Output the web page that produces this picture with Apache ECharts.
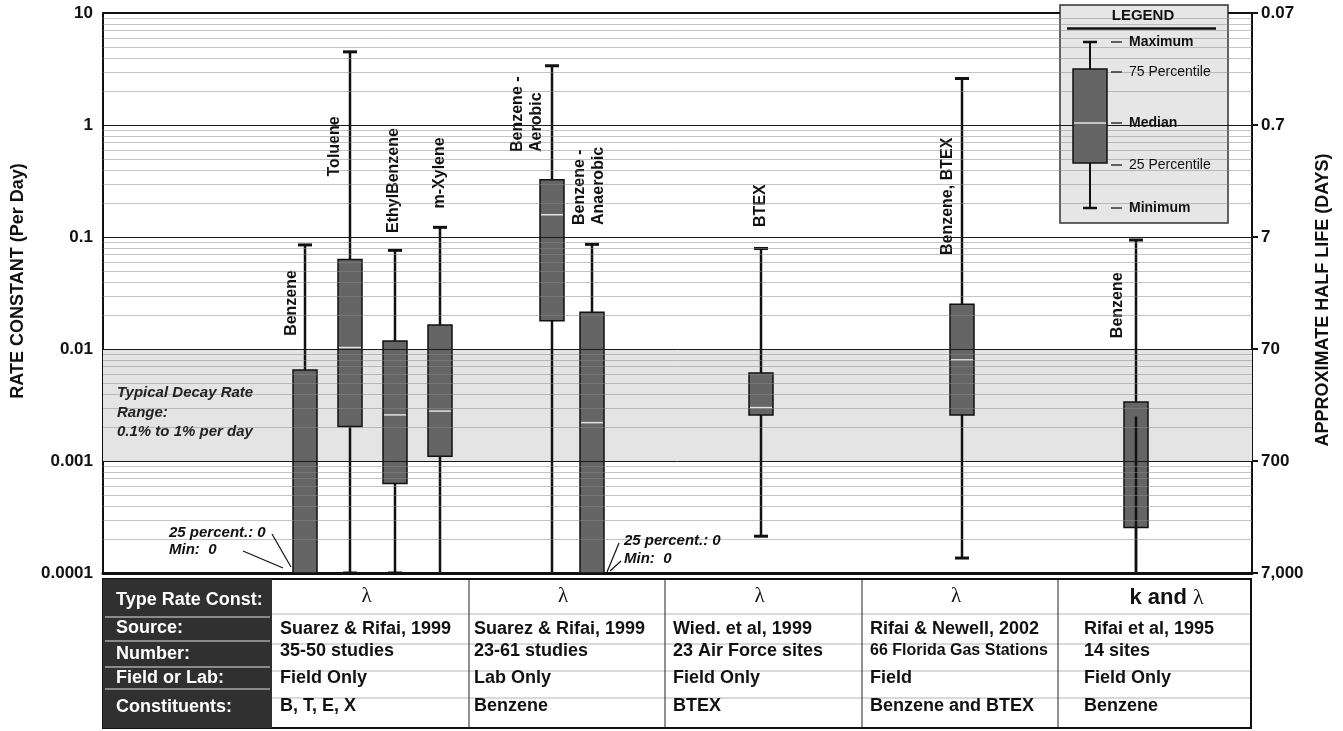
<!DOCTYPE html>
<html><head><meta charset="utf-8">
<script src="https://cdn.jsdelivr.net/npm/echarts@6/dist/echarts.min.js"></script>
<style>html,body{margin:0;padding:0;background:#fff}#c{width:1343px;height:731px}</style>
</head><body><div id="c"></div>
<script>
// ---------------- DATA ----------------
const categories = ['Benzene', 'Toluene', 'EthylBenzene', 'm-Xylene', 'Benzene -\nAerobic', 'Benzene -\nAnaerobic', 'BTEX', 'Benzene, BTEX', 'Benzene'];
const boxSlot = [202, 247, 292, 337, 449, 489, 658, 859, 1033];   // position along the hidden x axis (0..1149)
const maxValues    = [0.085, 4.5,    0.076,   0.122,  3.38,   0.086,  0.079,    2.6,      0.094];
const q3Values     = [0.0065, 0.063, 0.0118,  0.0164, 0.325,  0.0213, 0.0061,   0.0251,   0.00337];
const medianValues = [0,      0.0103, 0.00258, 0.00279, 0.158, 0.0022, 0.003,   0.008,    0.0025];
const q1Values     = [0,      0.00203, 0.00063, 0.0011, 0.0179, 0,     0.00258,  0.00258,  0.000255];
const minValues    = [0,      0.0001, 0.0001,  0,      0,      0,      0.000213, 0.000136, 0];
const rateTicks = [0.0001, 0.001, 0.01, 0.1, 1, 10];
const rateTickLabels = ['0.0001', '0.001', '0.01', '0.1', '1', '10'];
const halfLifeTickLabels = ['7,000', '700', '70', '7', '0.7', '0.07'];
const typicalBand = [0.001, 0.01];
const tableRowHeaders = ['Type Rate Const:', 'Source:', 'Number:', 'Field or Lab:', 'Constituents:'];
const rateType = ['λ', 'λ', 'λ', 'λ', 'k and λ'];
const sources = ['Suarez & Rifai, 1999', 'Suarez & Rifai, 1999', 'Wied. et al, 1999', 'Rifai & Newell, 2002', 'Rifai et al, 1995'];
const numbers = ['35-50 studies', '23-61 studies', '23 Air Force sites', '66 Florida Gas Stations', '14 sites'];
const fieldOrLab = ['Field Only', 'Lab Only', 'Field Only', 'Field', 'Field Only'];
const constituents = ['B, T, E, X', 'Benzene', 'BTEX', 'Benzene and BTEX', 'Benzene'];

// ---------------- LAYOUT / STYLE ----------------
const labelPlacement = [   // dx from whisker (px), rate value at the label's lower end
  {dx: -13, at: 0.0131}, {dx: -15, at: 0.347}, {dx: -1, at: 0.1086}, {dx: 0, at: 0.1797},
  {dx: -25, at: 0.574}, {dx: -3, at: 0.128}, {dx: 0, at: 0.123}, {dx: -14, at: 0.069}, {dx: -18, at: 0.0125}
];
const whiskerThroughBox = [false, false, false, false, false, false, false, false, true];
const FONT = '"Liberation Sans", Arial, Helvetica, sans-serif';
const AXMIN = 0.0001, AXMAX = 10;

const minorLines = [];
for (let e = -4; e <= 0; e++) for (let m = 2; m <= 9; m++) minorLines.push(m * Math.pow(10, e));
const majorLines = [0.001, 0.01, 0.1, 1];
const gridData = minorLines.map(v => [0, v, 0]).concat(majorLines.map(v => [0, v, 1]));

const clamp = v => (v > 0 ? v : AXMIN);

function renderBox(params, api) {
  const i = params.dataIndex;
  const xv = api.value(0);
  const P = v => api.coord([xv, clamp(v)]);
  const x = Math.round(P(maxValues[i])[0]);
  const yMax = P(api.value(5))[1], yQ3 = P(api.value(4))[1], yMed = P(api.value(3))[1];
  const yQ1 = P(api.value(2))[1], yMin = P(api.value(1))[1];
  const bw = 24;
  const ch = [];
  const ls = {stroke: '#111', lineWidth: 2.5};
  ch.push({type: 'line', shape: {x1: x, y1: yQ3, x2: x, y2: yMax}, style: ls});
  ch.push({type: 'line', shape: {x1: x - 7, y1: yMax, x2: x + 7, y2: yMax}, style: {stroke: '#111', lineWidth: 3}});
  ch.push({type: 'line', shape: {x1: x, y1: yQ1, x2: x, y2: yMin}, style: ls});
  if (api.value(1) > 0) ch.push({type: 'line', shape: {x1: x - 7, y1: yMin, x2: x + 7, y2: yMin}, style: {stroke: '#111', lineWidth: 3}});
  ch.push({type: 'rect', shape: {x: x - bw / 2, y: yQ3, width: bw, height: yQ1 - yQ3}, style: {fill: '#656565', stroke: '#111', lineWidth: 1.5}});
  if (whiskerThroughBox[i]) {
    ch.push({type: 'line', shape: {x1: x, y1: yMed, x2: x, y2: yMin}, style: ls});
  } else if (api.value(3) > 0) {
    ch.push({type: 'line', shape: {x1: x - bw / 2 + 1, y1: yMed, x2: x + bw / 2 - 1, y2: yMed}, style: {stroke: '#e2e2e2', lineWidth: 1.5}});
  }
  const lp = labelPlacement[i];
  ch.push({type: 'text', x: x + lp.dx, y: P(lp.at)[1], rotation: Math.PI / 2,
    style: {text: categories[i], fill: '#111', font: 'bold 16px ' + FONT, lineHeight: 19,
      align: 'left', textAlign: 'left', verticalAlign: 'middle', textVerticalAlign: 'middle'}});
  return {type: 'group', children: ch};
}

function renderGrid(params, api) {
  const cs = params.coordSys;
  const y = Math.round(api.coord([0, api.value(1)])[1]) + 0.5;
  const major = api.value(2) === 1;
  return {type: 'line', shape: {x1: cs.x, y1: y, x2: cs.x + cs.width, y2: y},
    style: {stroke: major ? '#1a1a1a' : 'rgba(137,137,137,0.5)', lineWidth: 1}};
}

function renderBand(params, api) {
  const cs = params.coordSys;
  const y1 = api.coord([0, api.value(2)])[1], y2 = api.coord([0, api.value(1)])[1];
  return {type: 'rect', shape: {x: cs.x, y: y1, width: cs.width, height: y2 - y1}, style: {fill: '#e4e4e4'}};
}

const labelIdx = v => Math.round(Math.log10(v)) + 4;

// ---------------- GRAPHIC (table, legend, notes) ----------------
const G = [];
const txt = (x, y, text, font, fill, align, extra) => Object.assign({type: 'text', x, y, z: 20,
  style: {text, font, fill: fill || '#111', align: align || 'left', textAlign: align || 'left', verticalAlign: 'middle', textVerticalAlign: 'middle'}}, extra || {});
const line = (x1, y1, x2, y2, stroke, w, z) => ({type: 'line', z: z == null ? 20 : z, shape: {x1, y1, x2, y2}, style: {stroke, lineWidth: w}});

// Axis titles
G.push(txt(18, 281, 'RATE CONSTANT (Per Day)', 'bold 18px ' + FONT, '#111', 'center', {rotation: Math.PI / 2}));
G.push(txt(1323, 300, 'APPROXIMATE HALF LIFE (DAYS)', 'bold 18px ' + FONT, '#111', 'center', {rotation: Math.PI / 2}));

// Top border of plot (interrupted by the legend)
G.push(line(103, 13, 1060, 13, '#111', 2));
G.push(line(1228, 13, 1253, 13, '#111', 2));

// Typical band note
const bi = 'italic bold 15px ' + FONT;
G.push(txt(117, 393, 'Typical Decay Rate', bi, '#222'));
G.push(txt(117, 413, 'Range:', bi, '#222'));
G.push(txt(117, 432, '0.1% to 1% per day', bi, '#222'));

// Zero notes
G.push(txt(169, 533, '25 percent.: 0', bi, '#111'));
G.push(txt(169, 550, 'Min:  0', bi, '#111'));
G.push(line(272, 534, 291, 567, '#111', 1.2));
G.push(line(243, 551, 283, 568, '#111', 1.2));
G.push(txt(624, 541, '25 percent.: 0', bi, '#111'));
G.push(txt(624, 559, 'Min:  0', bi, '#111'));
G.push(line(619, 543, 607, 572, '#111', 1.2));
G.push(line(621, 561, 610, 571, '#111', 1.2));

// Legend
G.push({type: 'rect', z: 0, shape: {x: 1060, y: 5, width: 168, height: 218}, style: {fill: '#e6e6e6', stroke: '#333', lineWidth: 1.5}});
G.push(txt(1143, 16, 'LEGEND', 'bold 15px ' + FONT, '#111', 'center'));
G.push(line(1067, 28.5, 1216, 28.5, '#111', 2.5));
G.push(line(1090, 42, 1090, 208, '#111', 2));
G.push(line(1083, 42, 1097, 42, '#111', 2.5));
G.push(line(1083, 208, 1097, 208, '#111', 2.5));
G.push({type: 'rect', z: 20, shape: {x: 1073, y: 69, width: 34, height: 94}, style: {fill: '#656565', stroke: '#111', lineWidth: 1.5}});
G.push(line(1074, 123, 1106, 123, '#e2e2e2', 1.5));
const legendRows = [[42, 'Maximum', 'bold'], [72, '75 Percentile', 'normal'], [123, 'Median', 'bold'], [165, '25 Percentile', 'normal'], [208, 'Minimum', 'bold']];
legendRows.forEach(r => {
  G.push(line(1111, r[0], 1122, r[0], '#333', 1.5));
  G.push(txt(1129, r[0], r[1], r[2] + ' 14px ' + FONT, '#111'));
});

// Table
const colEdges = [103, 272, 469, 665, 862, 1058, 1251];
const textPad = [8, 5, 8, 8, 26];
const tTop = 579, tBot = 728;
G.push({type: 'rect', z: 19, shape: {x: 103, y: tTop, width: 1148, height: tBot - tTop}, style: {fill: '#fff', stroke: '#111', lineWidth: 2}});
G.push({type: 'rect', z: 19, shape: {x: 103, y: tTop, width: 169, height: tBot - tTop}, style: {fill: '#303030'}});
[617, 641, 667, 689].forEach(y => G.push(line(105, y, 270, y, '#a8a8a8', 1.5)));
[614, 644, 671, 698].forEach(y => G.push(line(272, y, 1250, y, '#b4b4b4', 1)));
colEdges.slice(2, 6).forEach(x => G.push(line(x, tTop, x, tBot, '#222', 1)));
const headerY = [600, 628, 654, 678, 707];
tableRowHeaders.forEach((h, k) => G.push(txt(116, headerY[k], h, 'bold 18px ' + FONT, '#fff')));
const cellY = [629, 651, 678, 706];
[sources, numbers, fieldOrLab, constituents].forEach((row, r) => {
  row.forEach((t, c) => {
    const f = (t.length > 20 && r === 1) ? 'bold 16px ' : 'bold 18px ';
    G.push(txt(colEdges[c + 1] + textPad[c], cellY[r], t, f + FONT, '#111'));
  });
});
rateType.forEach((t, c) => {
  const cx = (colEdges[c + 1] + colEdges[c + 2]) / 2;
  if (t === 'λ') {
    G.push(txt(cx - 4, 596, t, '21px "Liberation Serif", "DejaVu Serif", serif', '#111', 'center'));
  } else {
    G.push({type: 'text', x: cx + 12, y: 598, z: 20, style: {
      text: '{a|k and }{b|λ}', align: 'center', textAlign: 'center', verticalAlign: 'middle', textVerticalAlign: 'middle',
      rich: {a: {font: 'bold 22px ' + FONT, fill: '#111'}, b: {font: '22px "Liberation Serif", serif', fill: '#111'}}}});
  }
});

// ---------------- CHART ----------------
const chart = echarts.init(document.getElementById('c'), null, {renderer: 'canvas'});
chart.setOption({
  animation: false,
  backgroundColor: '#fff',
  grid: {left: 103, right: 91, top: 13, bottom: 158},
  xAxis: {type: 'value', min: 0, max: 1149, axisLine: {show: true, lineStyle: {color: '#111', width: 3}},
    axisTick: {show: false}, axisLabel: {show: false}, splitLine: {show: false}},
  yAxis: [
    {type: 'log', logBase: 10, min: AXMIN, max: AXMAX, position: 'left',
      axisLine: {show: true, lineStyle: {color: '#111', width: 2}}, axisTick: {show: false},
      splitLine: {show: false}, minorSplitLine: {show: false},
      axisLabel: {margin: 10, color: '#111', fontWeight: 'bold', fontSize: 17, fontFamily: FONT,
        formatter: v => rateTickLabels[labelIdx(v)]}},
    {type: 'log', logBase: 10, min: AXMIN, max: AXMAX, position: 'right',
      axisLine: {show: true, lineStyle: {color: '#111', width: 2}},
      axisTick: {show: true, inside: false, length: 6, lineStyle: {color: '#111', width: 2}},
      splitLine: {show: false},
      axisLabel: {margin: 9, color: '#111', fontWeight: 'bold', fontSize: 17, fontFamily: FONT,
        formatter: v => halfLifeTickLabels[labelIdx(v)]}}
  ],
  series: [
    {type: 'custom', name: 'band', z: 1, silent: true, renderItem: renderBand,
      data: [[0, typicalBand[0], typicalBand[1]]], encode: {x: 0, y: 1}},
    {type: 'custom', name: 'boxes', z: 2, silent: true, renderItem: renderBox,
      data: boxSlot.map((x, i) => [x, minValues[i], q1Values[i], medianValues[i], q3Values[i], maxValues[i]]),
      encode: {x: 0, y: 5}},
    {type: 'custom', name: 'grid', z: 3, silent: true, renderItem: renderGrid,
      data: gridData, encode: {x: 0, y: 1}}
  ],
  graphic: {elements: G}
});
</script></body></html>
